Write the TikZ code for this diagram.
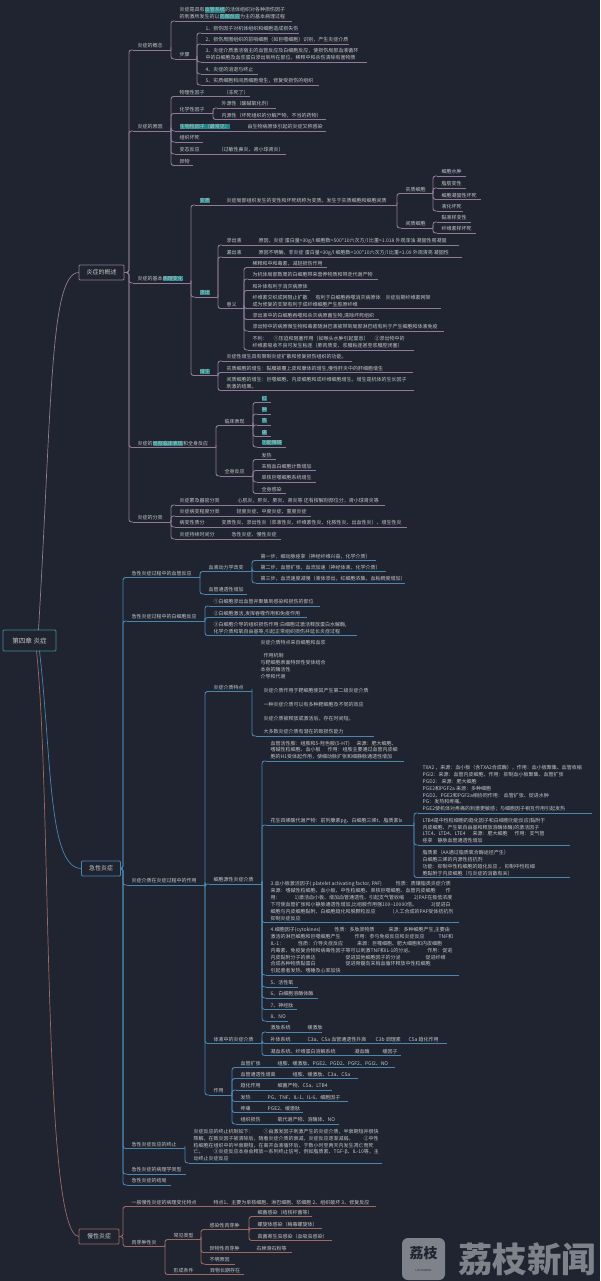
\documentclass[tikz,border=0pt]{standalone}
\usepackage{fontspec}
\setmainfont{Noto Sans CJK SC}
\usepackage{tikz}
\definecolor{bgcol}{HTML}{1F2430}
\definecolor{purplecol}{HTML}{8F7B95}
\definecolor{bluecol}{HTML}{4A86B0}
\definecolor{browncol}{HTML}{9A6A62}
\definecolor{tealcol}{HTML}{3F8F92}
\definecolor{hlcol}{HTML}{1E8587}
\definecolor{textcol}{HTML}{C6C6C6}
\definecolor{markcol}{HTML}{7F828B}
\tikzset{topic/.style={anchor=south west,inner xsep=4.7pt,inner ysep=1.1pt,outer sep=0pt,align=left,text=textcol,text depth=1.1pt,font=\fontsize{5}{6.9}\selectfont},
         branch/.style={draw=purplecol,line width=0.9pt},
         joint/.style={branch,rounded corners=2.5pt},
         mainbox/.style={draw=#1,fill=bgcol,line width=0.8pt,rounded corners=1pt,text=textcol,font=\fontsize{6}{7}\selectfont,inner sep=0pt,outer sep=0pt},
         rootline/.style={draw=#1,line width=0.7pt}}
\fboxsep=0.2pt
\newcommand{\hl}[1]{\colorbox{hlcol}{#1}}
\newcommand{\tb}[2]{\makebox[#1pt][l]{#2}}
\newcommand{\mytopic}[5]{\node[topic] (#1) at (#2+4,#3) {#5};
\coordinate (#1-e) at (#4,#3);
\draw[branch] (#1.south west) -- (#1-e);}
\newcommand{\mylink}[2]{\draw[joint] (#1-e) -| ([xshift=-4pt]#2.south west) -- (#2.south west);}
\begin{document}
\begin{tikzpicture}[x=1pt,y=-1pt]
\fill[bgcol] (0,0) rectangle (600,1281);
\useasboundingbox (0,0) rectangle (600,1281);

%%main boxes
\node[mainbox=tealcol,minimum width=53pt,minimum height=21pt,font=\fontsize{6.6}{8}\selectfont] (root) at (29.5,640.5) {第四章 炎症};
\node[mainbox=purplecol,minimum width=45pt,minimum height=15pt] (overview) at (101.5,272.5) {炎症的概述};
\node[mainbox=bluecol,minimum width=39pt,minimum height=15pt] (acute) at (101,868.5) {急性炎症};
\node[mainbox=browncol,minimum width=40pt,minimum height=15pt] (chronic) at (99,1236.5) {慢性炎症};
\coordinate (overview-e) at (overview.east);
\coordinate (acute-e) at (acute.east);
\coordinate (chronic-e) at (chronic.east);
\draw[rootline=purplecol] ([xshift=9pt]root.north) .. controls (52,400) and (50,272.5) .. (overview.west);
\draw[rootline=bluecol] ([xshift=10pt]root.south) .. controls (52,760) and (48,868.5) .. (acute.west);
\draw[rootline=browncol] ([xshift=7pt]root.south) .. controls (52,800) and (42,1236.5) .. (chronic.west);

%%first part
\begin{scope}[branch/.style={draw=purplecol,line width=0.9pt}]
\mytopic{concept}{129}{50}{171}{炎症的概念}
\mytopic{define}{171}{21}{292}{炎症是具有\hl{血管系统}的活体组织对各种损伤因子\\的刺激所发生的以\hl{防御反应}为主的基本病理过程}
\mytopic{steps}{171}{59}{197}{步骤}
\mytopic{stepa}{197}{33}{299}{1、损伤因子对机体组织和细胞造成损失伤}
\mytopic{stepb}{197}{44}{349}{2、损伤周围组织的前哨细胞（如巨噬细胞）识别，产生炎症介质}
\mytopic{stepc}{197}{62}{367}{3、炎症介质激活宿主的血管反应及白细胞反应，使损伤局部血液循环\\中的白细胞及血浆蛋白渗出到所在部位，稀释中和杀伤清除有害物质}
\mytopic{stepd}{197}{74}{258}{4、炎症的消退与终止}
\mytopic{stepe}{197}{85}{319}{5、实质细胞和间质细胞增生，修复受损伤的组织}
\foreach \c in {define,steps} {\mylink{concept}{\c}}
\foreach \c in {stepa,stepb,stepc,stepd,stepe} {\mylink{steps}{\c}}

\mytopic{cause}{129}{131}{171}{炎症的原因}
\mytopic{physic}{171}{96.5}{250}{\tb{44}{物理性因子}（冻死了）}
\mytopic{chem}{171}{113.5}{213}{化学性因子}
\mytopic{chema}{213}{108}{276}{外源性（酸碱氧化剂）}
\mytopic{chemb}{213}{119.5}{326}{内源性（坏死组织的分解产物，不当的药物）}
\mytopic{bio}{171}{131}{326}{\tb{68}{\hl{生物性因子（最常见）}}由生物病原体引起的炎症又称感染}
\mytopic{necro}{171}{142}{203}{组织坏死}
\mytopic{allergy}{171}{154}{286}{\tb{39}{变态反应}（过敏性鼻炎、肾小球肾炎）}
\mytopic{foreign}{171}{165.5}{193}{异物}
\foreach \c in {physic,chem,bio,necro,allergy,foreign} {\mylink{cause}{\c}}
\foreach \c in {chema,chemb} {\mylink{chem}{\c}}

\mytopic{basic}{129}{283}{191}{炎症的基本\hl{病理变化}}
\mytopic{alter}{191}{205}{397}{\tb{27}{\hl{变质}}炎症局部组织发生的变性和坏死统称为变质。发生于实质细胞和细胞间质}
\mytopic{paren}{397}{193.5}{433}{实质细胞}
\mytopic{stroma}{397}{228}{433}{间质细胞}
\mytopic{parena}{433}{176}{466}{细胞水肿}
\mytopic{parenb}{433}{188}{466}{脂肪变性}
\mytopic{parenc}{433}{199.5}{481}{细胞凝固性坏死}
\mytopic{parend}{433}{211}{463}{液化坏死}
\mytopic{stromaa}{433}{222}{471}{黏液样变性}
\mytopic{stromab}{433}{233}{476}{纤维素样坏死}
\foreach \c in {paren,stroma} {\mylink{alter}{\c}}
\foreach \c in {parena,parenb,parenc,parend} {\mylink{paren}{\c}}
\foreach \c in {stromaa,stromab} {\mylink{stroma}{\c}}

\mytopic{exud}{191}{297}{218}{\hl{渗出}}
\mytopic{exuda}{218}{245}{459}{\tb{32}{渗出液}原因，炎症 蛋白量>30g/l 细胞数>500*10六次方/l 比重>1.018 外观浑浊 凝固性易凝固}
\mytopic{exudb}{218}{257}{462}{\tb{32}{漏出液}原因不明确，非炎症 蛋白量<30g/l 细胞数<100*10六次方/l 比重<1.09 外观清亮 凝固性}
\mytopic{mean}{218}{308.5}{244}{意义}
\mytopic{meana}{244}{267.5}{327}{稀释和中和毒素，减轻损伤作用}
\mytopic{meanb}{244}{279}{378}{为机体局部数周的白细胞带来营养物质和带走代谢产物}
\mytopic{meanc}{244}{290.5}{310}{和补体有利于消灭病原体}
\mytopic{meand}{244}{308.5}{441}{\tb{63}{纤维素交织成网阻止扩散}\tb{70}{有利于白细胞吞噬消灭病原体}炎症后期纤维素网架\\成为修复的支架有利于成纤维细胞产生胶原纤维}
\mytopic{meane}{244}{319.5}{379}{渗出液中的白细胞吞噬和杀灭病原菌生物,清除坏死组织}
\mytopic{meanf}{244}{331}{444}{渗出物中的病原微生物和毒素随淋巴液被带到局部淋巴结有利于产生细胞和体液免疫}
\mytopic{meang}{244}{350}{414}{\tb{21}{不利：}①压迫和阻塞作用（如喉头水肿引起窒息）\hspace{6pt}②渗出物中的\\纤维素吸收不良可发生粘连（肺肉质变、浆膜粘连甚至浆膜腔闭塞）}
\foreach \c in {exuda,exudb,mean} {\mylink{exud}{\c}}
\foreach \c in {meana,meanb,meanc,meand,meane,meanf,meang} {\mylink{mean}{\c}}

\mytopic{prolif}{191}{375.5}{218}{\hl{增生}}
\mytopic{prolifa}{218}{361}{352}{炎症性增生具有限制炎症扩散和修复损伤组织的功能。}
\mytopic{prolifb}{218}{372.5}{413}{实质细胞的增生：黏膜被覆上皮和腺体的增生,慢性肝炎中的肝细胞增生}
\mytopic{prolifc}{218}{390.5}{414}{间质细胞的增生：巨噬细胞、内皮细胞和成纤维细胞增生。增生是机体的生长因子\\刺激的结果。}
\foreach \c in {prolifa,prolifb,prolifc} {\mylink{prolif}{\c}}
\foreach \c in {alter,exud,prolif} {\mylink{basic}{\c}}

\mytopic{sign}{129}{447.5}{216}{炎症的\hl{局部临床表现}和全身反应}
\mytopic{local}{216}{425.5}{253}{临床表现}
\mytopic{locala}{253}{402.5}{271}{\hl{红}}
\mytopic{localb}{253}{414}{271}{\hl{肿}}
\mytopic{localc}{253}{425}{271}{\hl{热}}
\mytopic{locald}{253}{436.5}{271}{\hl{痛}}
\mytopic{locale}{253}{447}{286}{\hl{功能障碍}}
\mytopic{whole}{216}{476}{253}{全身反应}
\mytopic{wholea}{253}{459.5}{276}{发热}
\mytopic{wholeb}{253}{470.5}{316}{末梢血白细胞计数增加}
\mytopic{wholec}{253}{482}{316}{单核巨噬细胞系统增生}
\mytopic{wholed}{253}{493.5}{286}{全身感染}
\foreach \c in {local,whole} {\mylink{sign}{\c}}
\foreach \c in {locala,localb,localc,locald,locale} {\mylink{local}{\c}}
\foreach \c in {wholea,wholeb,wholec,wholed} {\mylink{whole}{\c}}

\mytopic{sort}{129}{522}{171}{炎症的分类}
\mytopic{sorta}{171}{505}{385}{\tb{58}{炎症累及器官分类}心肌炎，肝炎、肺炎、肾炎等  还有按解剖部位分，肾小球肾炎等}
\mytopic{sortb}{171}{516}{311}{\tb{57}{炎症病变程度分类}轻度炎症、中度炎症、重度炎症}
\mytopic{sortc}{171}{527}{407}{\tb{42}{病变性质分}变质性炎、渗出性炎（浆液性炎、纤维素性炎、化脓性炎、出血性炎）、增生性炎}
\mytopic{sortd}{171}{539}{281}{\tb{52}{炎症持续时间分}急性炎症、慢性炎症}
\foreach \c in {sorta,sortb,sortc,sortd} {\mylink{sort}{\c}}
\foreach \c in {concept,cause,basic,sign,sort} {\mylink{overview}{\c}}
\end{scope}

%%second part
\begin{scope}[branch/.style={draw=bluecol,line width=0.9pt}]
\mytopic{vessel}{123}{577.5}{200}{急性炎症过程中的血管反应}
\mytopic{flow}{200}{571.5}{252}{血液动力学改变}
\mytopic{perm}{200}{594}{247}{血管通透性增加}
\mytopic{flowa}{252}{560.5}{376}{第一步，细动脉痉挛（神经纤维兴奋，化学介质）}
\mytopic{flowb}{252}{571.5}{386}{第二步，血管扩张，血流加速（神经体液，化学介质）}
\mytopic{flowc}{252}{583}{405}{第三步，血流速度减慢（液体渗出，红细胞浓集，血粘稠度增加）}
\foreach \c in {flow,perm} {\mylink{vessel}{\c}}
\foreach \c in {flowa,flowb,flowc} {\mylink{flow}{\c}}

\mytopic{white}{123}{621}{205}{急性炎症过程中的白细胞反应}
\mytopic{whitea}{205}{606}{320}{①白细胞渗出血管并聚集到感染和损伤的部位}
\mytopic{whiteb}{205}{617.5}{307}{②白细胞激活,发挥吞噬作用和免疫作用}
\mytopic{whitec}{205}{635.5}{357}{③白细胞介导的组织损伤作用:白细胞过激活释放蛋白水解酶,\\化学介质和氧自由基等,引起正常组织损伤并延长炎症过程}
\foreach \c in {whitea,whiteb,whitec} {\mylink{white}{\c}}

\mytopic{medi}{123}{885}{205}{炎症介质在炎症过程中的作用}
\mytopic{feat}{205}{691.5}{252}{炎症介质特点}
\mytopic{feata}{252}{736}{374}{炎症介质特点来自细胞和血浆\\[6.9pt]\hspace*{3pt}作用机制\\与靶细胞表面特异性受体结合\\本身的酶活性\\介导和代谢\\[6.9pt]\hspace*{3pt}炎症介质作用于靶细胞使其产生第二级炎症介质\\[6.9pt]\hspace*{3pt}一种炎症介质可以有多种靶细胞及不同的效应\\[6.9pt]\hspace*{3pt}炎症介质被释放或激活后，存在时间短。\\[6.9pt]\hspace*{3pt}大多数炎症介质有潜在的致损伤能力}
\mylink{feat}{feata}

\mytopic{cell}{205}{884}{262}{细胞源性炎症介质}
\mytopic{cella}{262}{761}{404}{血管活性胺：组胺和5-羟色胺(5-HT)\hspace{7pt}来源：肥大细胞、\\嗜碱性粒细胞、血小板\hspace{7pt}作用：组胺主要通过血管内皮细\\胞的H1受体起作用，使细动脉扩张和细静脉通透性增加}
\mytopic{cellb}{262}{825}{414}{花生四烯酸代谢产物：前列腺素pg、白细胞三烯t、脂质素lx}
\mytopic{lipa}{414}{813}{592}{TXA2 ，来源：血小板（含TXA2合成酶），作用：血小板聚集、血管收缩\\PGI2：来源：血管内皮细胞，作用：抑制血小板聚集、血管扩张\\PGD2：  来源：肥大细胞\\PGE2和PGF2a  来源：多种细胞\\PGD2、PGE2和PGF2a相协同作用：  血管扩张、促进水肿\\PG：发热和疼痛。\\PGE2使机体对疼痛的刺激更敏感；与细胞因子相互作用引起发热}
\mytopic{lipb}{414}{845}{570}{LTB4是中性粒细胞的趋化因子和白细胞功能反应(黏附于\\内皮细胞、产生氧自由基和释放溶酶体酶)的激活因子\\LTC4、LTD4、LTE4\hspace{7pt}来源：肥大细胞\hspace{7pt}作用：支气管\\痉挛\hspace{5pt}静脉血管通透性增加}
\mytopic{lipc}{414}{877.5}{570}{脂质素（AA通过脂质氧合酶途径产生）\\白细胞三烯的内源性拮抗剂\\功能：抑制中性粒细胞的趋化反应 ， 抑制中性粒细\\胞黏附于内皮细胞（与炎症的消散有关）}
\mytopic{cellc}{262}{922.5}{459}{3.血小板激活因子( platelet activating factor, PAF)\hspace{14pt}性质：质镶脂类炎症介质\\来源：嗜碱性粒细胞、血小板、中性粒细胞、单核巨噬细胞、血管内皮细胞\hspace{10pt}作\\用：\hspace{14pt}1)激活血小板、增加血管通透性、引起支气管收缩\hspace{10pt}2)PAF在极低浓度\\下可使血管扩张和小静脉通透性增加,比组胺作用强100\textasciitilde 10000倍。\hspace{14pt}3)促进白\\细胞与内皮细胞黏附、白细胞趋化和脱颗粒反应\hspace{14pt}（人工合成的PAF受体拮抗剂\\抑制炎症反应}
\mytopic{celld}{262}{975}{459}{4.细胞因子(cytokines)\hspace{14pt}性质：多肽类物质\hspace{14pt}来源：多种细胞产生,主要由\\激活的淋巴细胞和巨噬细胞产生\hspace{14pt}作用：参与免疫反应和炎症反应\hspace{14pt}TNF和\\IL-1：\hspace{14pt}性质：介导炎症反应\hspace{14pt}来源：巨噬细胞、肥大细胞和内皮细胞\\内毒素、免疫复合物和病毒性因子等可以刺激TNF和IL-1的分泌。\hspace{14pt}作用：促进\\内皮黏附分子的表达\hspace{30pt}促进其他细胞因子的分泌\hspace{25pt}促进纤维\\合成各种物质黏蛋白\hspace{30pt}促进骨髓向末梢血循环释放中性粒细胞\\引起患者发热、嗜睡及心率加快}
\mytopic{celle}{262}{987}{298}{5、活性氧}
\mytopic{cellf}{262}{998}{318}{6、白细胞溶酶体酶}
\mytopic{cellg}{262}{1009.5}{297}{7、神经肽}
\mytopic{cellh}{262}{1021}{288}{8、NO}
\foreach \c in {cella,cellb,cellc,celld,celle,cellf,cellg,cellh} {\mylink{cell}{\c}}
\foreach \c in {lipa,lipb,lipc} {\mylink{cellb}{\c}}

\mytopic{fluid}{205}{1043.5}{262}{体液中的炎症介质}
\mytopic{fluida}{262}{1032}{322}{\tb{37}{激肽系统}缓激肽}
\mytopic{fluidb}{262}{1043.5}{447}{\tb{37}{补体系统}\tb{68}{C3a、C5a 血管通透性升高}\tb{33}{C3b 调理素}C5a 趋化作用}
\mytopic{fluidc}{262}{1055.5}{401}{\tb{84}{凝血系统、纤维蛋白溶解系统}\tb{28}{凝血酶}缓因子}
\foreach \c in {fluida,fluidb,fluidc} {\mylink{fluid}{\c}}

\mytopic{effect}{205}{1095}{232}{作用}
\mytopic{effecta}{232}{1067.5}{395}{\tb{37}{血管扩张}组胺、缓激肽、PGE2、PGD2、PGF2、PGI2、NO}
\mytopic{effectb}{232}{1078.5}{358}{\tb{52}{血管通透性增高}组胺、缓激肽、C3a、C5a}
\mytopic{effectc}{232}{1090}{332}{\tb{37}{趋化作用}细菌产物、C5a、LTB4}
\mytopic{effectd}{232}{1101.5}{348}{\tb{27}{发热}PG、TNF、IL-1、IL-6、细胞因子}
\mytopic{effecte}{232}{1112.5}{303}{\tb{27}{疼痛}PGE2、缓激肽}
\mytopic{effectf}{232}{1124}{339}{\tb{37}{组织损伤}氧代谢产物、溶酶体、NO}
\foreach \c in {effecta,effectb,effectc,effectd,effecte,effectf} {\mylink{effect}{\c}}
\foreach \c in {feat,cell,fluid,effect} {\mylink{medi}{\c}}

\mytopic{stop}{123}{1148.5}{185}{急性炎症反应的终止}
\mytopic{stopa}{185}{1163}{382}{炎症反应的终止机制如下：\hspace{10pt}①由激发因子刺激产生的炎症介质，半衰期短并很快\\降解，在致炎因子被清除后，随着炎症介质的衰减，炎症反应逐渐减弱。\hspace{10pt}②中性\\粒细胞在组织中的半衰期短，在离开血液循环后，于数小时至两天内发生凋亡而死\\亡。\hspace{10pt}③炎症反应本身会释放一系列终止信号，例如脂质素、TGF-β、IL-10等，主\\动终止炎症反应}
\mylink{stop}{stopa}
\mytopic{kinds}{123}{1174}{186}{急性炎症的病理学类型}
\mytopic{result}{123}{1185}{171}{急性炎症的结局}
\foreach \c in {vessel,white,medi,stop,kinds,result} {\mylink{acute}{\c}}
\end{scope}

%%third part
\begin{scope}[branch/.style={draw=browncol,line width=0.9pt}]
\mytopic{common}{123}{1206.5}{376}{\tb{82}{一般慢性炎症的病理变化特点}特点1、主要为单核细胞、淋巴细胞、浆细胞 2、组织破坏 3、修复反应}
\mytopic{granu}{123}{1246.5}{165}{肉芽肿性炎}
\mytopic{types}{165}{1239.5}{201}{常见类型}
\mytopic{form}{165}{1274.5}{244}{\tb{36.5}{形成条件}异物长期存在}
\mytopic{infect}{201}{1229.5}{249}{感染性肉芽肿}
\mytopic{infecta}{249}{1216.5}{312}{细菌感染（结核杆菌等）}
\mytopic{infectb}{249}{1228.5}{322}{螺旋体感染（梅毒螺旋体）}
\mytopic{infectc}{249}{1240.5}{332}{真菌寄生虫感染（血吸虫感染）}
\mytopic{body}{201}{1252.5}{292}{\tb{47}{异物性肉芽肿}石棉滑石粉等}
\mytopic{unknown}{201}{1264}{235}{不明原因}
\foreach \c in {common,granu} {\mylink{chronic}{\c}}
\foreach \c in {types,form} {\mylink{granu}{\c}}
\foreach \c in {infect,body,unknown} {\mylink{types}{\c}}
\foreach \c in {infecta,infectb,infectc} {\mylink{infect}{\c}}
\end{scope}

%%mark in the corner
\node[fill=markcol,rounded corners=6pt,minimum width=43pt,minimum height=42pt,inner sep=0pt,align=center,text=bgcol] (logo) at (423.5,1259) {{\fontsize{14}{15}\selectfont\bfseries 荔枝}\\[1pt]{\fontsize{2.6}{3}\selectfont LITCHI NEWS}};
\node[anchor=west,inner sep=0pt,text=markcol,font=\fontsize{34.5}{36}\selectfont\bfseries] (brand) at (458,1259.5) {荔枝新闻};
\end{tikzpicture}
\end{document}
